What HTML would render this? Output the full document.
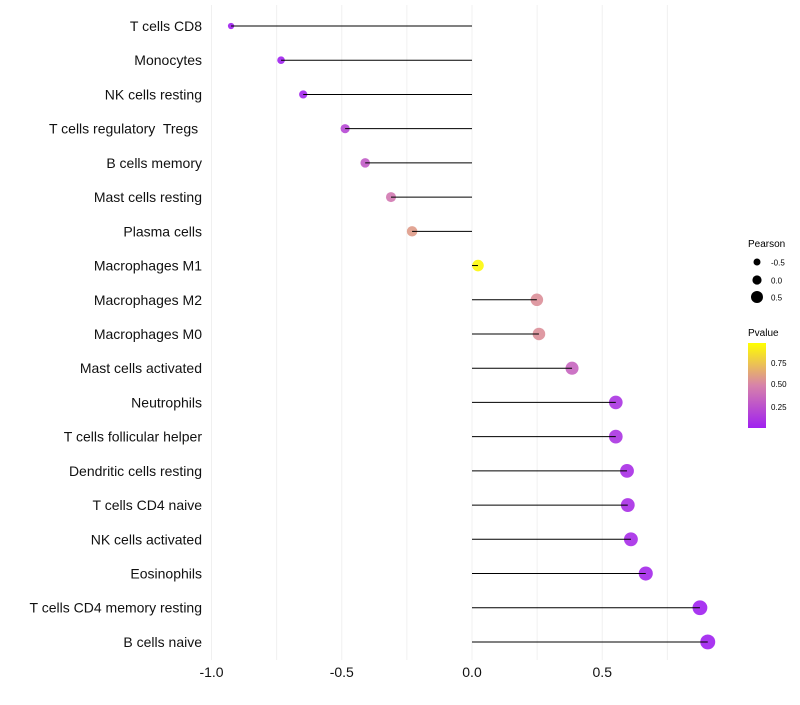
<!DOCTYPE html>
<html><head><meta charset="utf-8"><style>
body{margin:0;background:#fff;font-family:"Liberation Sans",sans-serif}
text{white-space:pre}
</style></head><body>
<svg id="chart" width="800" height="700" xmlns="http://www.w3.org/2000/svg" font-family="Liberation Sans, sans-serif">
<defs><linearGradient id="pg" x1="0" y1="1" x2="0" y2="0">
<stop offset="0" stop-color="rgb(160,32,240)"/><stop offset="0.5" stop-color="rgb(215,130,170)"/><stop offset="1" stop-color="rgb(255,255,0)"/></linearGradient></defs>
<g id="grid"></g>
<g id="marks"></g>
<g id="ylab"></g>
<g id="xlab"></g>
<g>
<text x="748" y="247" font-size="10">Pearson</text>
<circle cx="757" cy="262" r="3.5" fill="#000"/><text x="771" y="265.5" font-size="8">-0.5</text>
<circle cx="757" cy="280" r="4.6" fill="#000"/><text x="771" y="283.5" font-size="8">0.0</text>
<circle cx="757" cy="297" r="6" fill="#000"/><text x="771" y="300.5" font-size="8">0.5</text>
</g>
<g>
<text x="748" y="336" font-size="10">Pvalue</text>
<rect x="748" y="343" width="18" height="85" fill="url(#pg)"/>
<text x="771" y="366" font-size="8">0.75</text>
<text x="771" y="387" font-size="8">0.50</text>
<text x="771" y="410" font-size="8">0.25</text>
</g>
</svg>
<script>
const categories=["T cells CD8","Monocytes","NK cells resting","T cells regulatory  Tregs ","B cells memory","Mast cells resting","Plasma cells","Macrophages M1","Macrophages M2","Macrophages M0","Mast cells activated","Neutrophils","T cells follicular helper","Dendritic cells resting","T cells CD4 naive","NK cells activated","Eosinophils","T cells CD4 memory resting","B cells naive"];
const pearson=[-0.925,-0.733,-0.648,-0.487,-0.41,-0.311,-0.23,0.023,0.249,0.257,0.384,0.552,0.552,0.595,0.598,0.61,0.667,0.875,0.905];
const pvalue=[0.0,0.01,0.03,0.2,0.3,0.45,0.6,0.97,0.55,0.55,0.35,0.1,0.1,0.07,0.07,0.06,0.04,0.003,0.002];
const xTicks=[-1.0,-0.5,0.0,0.5];
const xTickLabels=["-1.0","-0.5","0.0","0.5"];
const xGrid=[-1.0,-0.75,-0.5,-0.25,0,0.25,0.5,0.75];
const NS="http://www.w3.org/2000/svg";
const x=v=>472+v*260.5;
const y=i=>26+i*34.22;
const rad=v=>{const a=33+25*v;return a<4?2:Math.sqrt(a)};
function col(p){const a=[160,32,240],m=[215,130,170],b=[255,255,0];let s,e,t;if(p<0.5){s=a;e=m;t=p/0.5}else{s=m;e=b;t=(p-0.5)/0.5}return`rgb(${s.map((c,k)=>Math.round(c+(e[k]-c)*t)).join(",")})`}
function mk(tag,at,parent){const el=document.createElementNS(NS,tag);for(const k in at)el.setAttribute(k,at[k]);parent.appendChild(el);return el}
const g=document.getElementById('grid'),mg=document.getElementById('marks'),yl=document.getElementById('ylab'),xl=document.getElementById('xlab');
xGrid.forEach(v=>{const l=mk('line',{x1:x(v),x2:x(v),y1:5,y2:660,stroke:'#f0f0f0','stroke-width':1},g);

});
categories.forEach((c,i)=>{
const t=mk('text',{x:202,y:y(i)+5,'font-size':14,'text-anchor':'end',fill:'#111'},yl);t.textContent=c;


const cr=mk('circle',{cx:x(pearson[i]),cy:y(i),r:rad(pearson[i]),fill:col(pvalue[i]),'fill-opacity':0.9},mg);


const ln=mk('line',{x1:x(0),x2:x(pearson[i]),y1:y(i),y2:y(i),stroke:'#000','stroke-width':1},mg);


});
xTicks.forEach((v,i)=>{const t=mk('text',{x:x(v),y:677,'font-size':14,'text-anchor':'middle',fill:'#111'},xl);t.textContent=xTickLabels[i];

});
</script>
</body></html>
